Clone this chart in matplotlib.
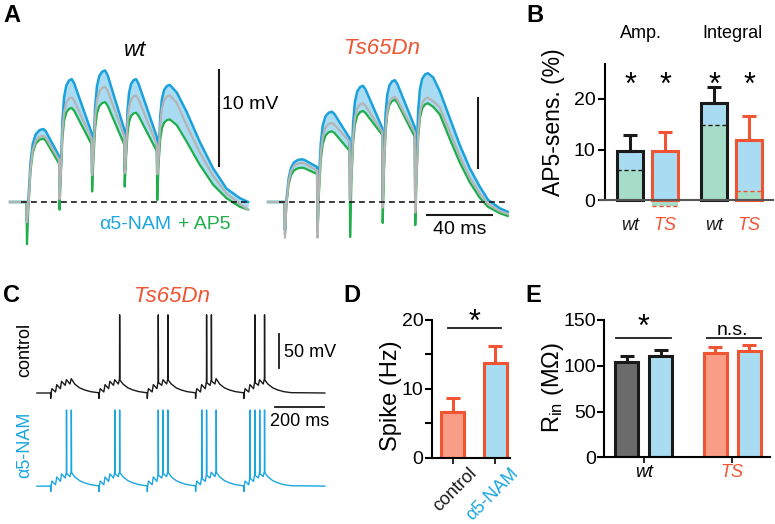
import numpy as np
import matplotlib
matplotlib.use("Agg")
import matplotlib.pyplot as plt

plt.rcParams["font.family"] = ["Liberation Sans", "DejaVu Sans"]
plt.rcParams["mathtext.default"] = "regular"

W, H = 775, 524

BLACK = "#1a1a1a"
BLUE_LINE = "#1ba1dc"
NAM_BLUE = "#1aa6df"
GREEN = "#1fae4a"
GRAY = "#b4b4b4"
FILL = "#a9dcf2"
MINT = "#a6ddc9"
ORANGE = "#ef5533"
SALMON = "#f99d86"
DGRAY = "#6b6b6b"

# ---------------- panel A: EPSP trains (ms, mV) ----------------
A_STIMS = [0, 20, 40, 60, 80]
A_T0 = -10.4
RISE_T = [0.15, 0.3, 0.5, 0.75, 1.0]      # fraction of time to peak
RISE_F = [0.55, 0.8, 0.93, 0.985, 1.0]    # fraction of amplitude reached

wt_peak_t = [10.0, 7.5, 8.0, 7.0, 7.7]
wt_blue_art = [-2.0, 0.5, 3.0, 3.2, 3.0]
wt_gray_art = [-2.1, 0.3, 2.8, 3.0, 2.9]
wt_green_art = [-4.4, -0.8, 1.1, 1.6, 0.2]
wt_blue_start = [0.0, 3.5, 5.5, 5.5, 5.0]
wt_gray_start = [-0.6, 3.2, 5.0, 5.0, 4.5]
wt_green_start = [-0.8, 3.0, 4.5, 4.5, 4.0]
wt_blue_peak = [7.6, 12.8, 13.7, 12.8, 12.2]
wt_gray_peak = [6.9, 10.9, 12.0, 11.1, 11.1]
wt_green_peak = [6.6, 9.8, 10.4, 9.3, 8.6]
wt_blue_trough = [4.8, 7.2, 7.6, 6.8]
wt_gray_trough = [4.4, 6.6, 6.9, 6.0]
wt_green_trough = [4.0, 6.0, 6.0, 5.3]
wt_decay_t = [92, 98, 106, 114.3, 122.5, 130.7, 135.8]
wt_blue_decay = [11.4, 9.4, 6.3, 3.5, 1.4, 0.4, 0.0]
wt_gray_decay = [10.3, 8.0, 5.2, 2.7, 0.9, -0.2, -0.8]
wt_green_decay = [8.0, 6.3, 3.9, 1.8, 0.4, -0.5, -0.8]

ts_peak_t = [10.4, 8.8, 7.9, 7.5, 7.7]
ts_blue_art = [-4.0, -4.0, 0.5, 0.0, -1.0]
ts_gray_art = [-5.1, -5.1, 0.0, -0.8, -1.5]
ts_green_art = [-4.6, -4.6, -5.0, -3.0, -3.3]
ts_blue_start = [0.0, 3.0, 5.0, 7.0, 7.0]
ts_gray_start = [-0.5, 1.5, 3.5, 5.0, 4.0]
ts_green_start = [-0.5, 1.0, 3.0, 4.5, 3.5]
ts_blue_peak = [6.1, 12.9, 16.6, 17.4, 18.4]
ts_gray_peak = [5.6, 11.3, 14.1, 15.0, 14.9]
ts_green_peak = [4.9, 10.1, 13.0, 14.6, 14.1]
ts_blue_trough = [5.0, 9.1, 10.6, 10.7]
ts_gray_trough = [4.5, 8.6, 10.0, 9.9]
ts_green_trough = [4.0, 7.3, 9.6, 9.3]
ts_decay_t = [91, 95.1, 101.2, 107.4, 113.5, 119.6, 124.7, 131.9, 136.8]
ts_blue_decay = [17.8, 15.8, 12.0, 8.1, 4.8, 2.2, 0.3, -0.9, -1.4]
ts_gray_decay = [14.4, 13.5, 10.0, 6.5, 3.5, 1.2, -0.3, -1.3, -1.7]
ts_green_decay = [13.6, 12.5, 9.0, 5.6, 2.8, 0.6, -0.7, -1.6, -2.0]

# ---------------- panel B: AP5-sensitive fraction (%) ----------------
b_groups = ["wt", "TS", "wt", "TS"]
b_total = [9.8, 9.7, 19.3, 11.9]
b_err = [3.1, 3.8, 3.0, 4.7]
b_ap5res = [6.0, -1.2, 14.9, 1.7]

# ---------------- panel C: burst responses ----------------
c_burst_onsets = [0, 200, 400, 600, 800]
c_epsp_offsets = [0, 20, 40, 60, 80]
c_decay_t = [100, 120, 140, 165, 195]
ctrl_peak = [6.4, 12.3, 17.2, 19.6, 21.1]
ctrl_trough = [1.5, 6.4, 11.3, 13.2]
ctrl_decay = [13.0, 7.5, 4.5, 2.0, 0.5]
ctrl_spikes = [[], [4], [2, 4], [2, 3], [2, 4]]
nam_peak = [7.5, 13.5, 18.0, 20.5, 22.0]
nam_trough = [2.0, 7.0, 12.0, 14.0]
nam_decay = [13.5, 8.0, 4.8, 2.2, 0.6]
nam_spikes = [[3, 4], [3, 4], [2, 3, 4], [1, 2, 4], [1, 2, 3, 4]]
ctrl_spike_top = 115
nam_spike_top = 112

# ---------------- panel D: spike rate (Hz) ----------------
d_labels = ["control", "α5-NAM"]
d_vals = [6.7, 13.8]
d_err = [1.9, 2.4]

# ---------------- panel E: input resistance (MOhm) ----------------
e_groups = ["wt", "TS"]
e_vals = [103.8, 111.0, 113.6, 116.0]
e_err = [6.9, 6.0, 7.4, 7.0]

fig = plt.figure(figsize=(W / 100, H / 100), dpi=100)


def box(l, t, r, b):
    return fig.add_axes([l / W, 1 - b / H, (r - l) / W, (b - t) / H])


def ftext(x, y, s, **kw):
    fig.text(x / W, 1 - y / H, s, **kw)


def epsp_train(tk, art, start, peak, trough, decay_t, decay_v):
    t, v = [A_T0, -0.3], [0.0, 0.0]
    for k, T in enumerate(A_STIMS):
        if k > 0:
            t.append(T - 0.3)
            v.append(trough[k - 1])
        t += [T, T + 0.8]
        v += [art[k], start[k]]
        for ft, fv in zip(RISE_T, RISE_F):
            t.append(T + 0.8 + ft * (tk[k] - 0.8))
            v.append(start[k] + fv * (peak[k] - start[k]))
        if k < len(trough):
            # rounded top before the linear fall
            t.append(T + tk[k] + 1.5)
            v.append(peak[k] - 0.08 * (peak[k] - trough[k]))
    t += list(decay_t)
    v += list(decay_v)
    return np.array(t), np.array(v)


def draw_a(ax, tk, blue, gray, green, decay_t):
    t, vb = epsp_train(tk, *blue[:4], decay_t, blue[4])
    _, vg = epsp_train(tk, *gray[:4], decay_t, gray[4])
    _, vn = epsp_train(tk, *green[:4], decay_t, green[4])
    ax.axhline(0, xmin=0.06, xmax=0.975, color=BLACK, lw=1.2, ls=(0, (3.5, 2.5)), zorder=5)
    ax.fill_between(t, vn, vb, where=vb >= vn, interpolate=True, color=FILL, lw=0, zorder=1)
    ax.plot(t, vb, color=BLUE_LINE, lw=1.8, zorder=2, solid_joinstyle="round")
    ax.plot(t, vn, color=GREEN, lw=1.6, zorder=3, solid_joinstyle="round")
    ax.plot(t, vg, color=GRAY, lw=1.6, zorder=4, solid_joinstyle="round")
    ax.set_xlim(-13, 140.5)
    ax.axis("off")


# panel A, wt
ax_wt = box(5.8, 43.6, 255.8, 259.6)
ax_wt.set_ylim(-6, 16.5)
draw_a(ax_wt, wt_peak_t,
       (wt_blue_art, wt_blue_start, wt_blue_peak, wt_blue_trough, wt_blue_decay),
       (wt_gray_art, wt_gray_start, wt_gray_peak, wt_gray_trough, wt_gray_decay),
       (wt_green_art, wt_green_start, wt_green_peak, wt_green_trough, wt_green_decay),
       wt_decay_t)
ax_wt.plot([117.8, 117.8], [3.75, 13.75], color=BLACK, lw=1.5, clip_on=False)
ax_wt.text(119.5, 10.2, "10 mV", fontsize=14, va="center", ha="left", clip_on=False)
ax_wt.text(44.5, -2.3, "α5-NAM", color=NAM_BLUE, fontsize=14, va="center", ha="left")
ax_wt.text(92.5, -2.3, "+ AP5", color=GREEN, fontsize=14, va="center", ha="left")

# panel A, Ts65Dn
ax_ts = box(263.8, 55, 513.8, 258)
ax_ts.set_ylim(-8, 21)
draw_a(ax_ts, ts_peak_t,
       (ts_blue_art, ts_blue_start, ts_blue_peak, ts_blue_trough, ts_blue_decay),
       (ts_gray_art, ts_gray_start, ts_gray_peak, ts_gray_trough, ts_gray_decay),
       (ts_green_art, ts_green_start, ts_green_peak, ts_green_trough, ts_green_decay),
       ts_decay_t)
ax_ts.plot([118.4, 118.4], [4.86, 14.86], color=BLACK, lw=1.5, clip_on=False)
ax_ts.plot([87.1, 127.1], [-1.86, -1.86], color=BLACK, lw=1.5, clip_on=False)
ax_ts.text(107.1, -4.0, "40 ms", fontsize=14, ha="center", va="center")

ftext(135, 50, "wt", fontsize=16, style="italic", ha="center", va="center")
ftext(382, 48, "Ts65Dn", fontsize=16, style="italic", color=ORANGE, ha="center", va="center")

# ---------------- panel B ----------------
axb = box(605, 63.6, 775, 215.2)
b_pos = np.array([0, 1, 2.4, 3.4])
bw = 0.74
b_edge = [BLACK if g == "wt" else ORANGE for g in b_groups]
axb.bar(b_pos, b_total, bw, color=FILL, lw=0, zorder=1)
axb.bar(b_pos, b_ap5res, bw, color=MINT, lw=0, zorder=2)
for x, tot, e, r, c, g in zip(b_pos, b_total, b_err, b_ap5res, b_edge, b_groups):
    axb.hlines(r, x - bw / 2, x + bw / 2, colors=c, lw=1.0, linestyles=(0, (3, 2)), zorder=3)
    axb.bar(x, tot, bw, fill=False, edgecolor=c, lw=2.2, zorder=4)
    axb.errorbar(x, tot, yerr=[[0], [e]], fmt="none", ecolor=c, elinewidth=2.2,
                 capsize=5, capthick=2.2, zorder=4)
    axb.text(x, 22.6, "*", fontsize=22, ha="center", va="center")
    axb.text(x, -5.0, g, fontsize=13, style="italic", color=c, ha="center", va="center",
             clip_on=False)
axb.set_xlim(-0.714, 4.14)
axb.set_ylim(-3, 27)
axb.axhline(0, xmin=-0.03, xmax=0.99, color="#555555", lw=1.5, zorder=5, clip_on=False)
axb.set_yticks([0, 10, 20])
axb.set_xticks([])
for s in ["top", "right", "bottom"]:
    axb.spines[s].set_visible(False)
axb.spines["left"].set_bounds(0, 27)
axb.spines["left"].set_linewidth(1.5)
axb.tick_params(axis="y", labelsize=14, width=1.5, length=5, pad=2)
axb.set_ylabel("AP5-sens. (%)", fontsize=16.5)
axb.yaxis.set_label_coords(-0.235, 0.615)
ftext(641, 34, "Amp.", fontsize=13, ha="center", va="center")
ftext(733, 34, "Integral", fontsize=13, ha="center", va="center")


# ---------------- panel C ----------------
def burst_trace(peaks, troughs, decay_v, spikes, spike_top):
    t, v = [-57.0], [0.0]
    for b, T0 in enumerate(c_burst_onsets):
        t += [T0 - 0.5, T0, T0 + 1.5]
        v += [0.0, -8.0, 0.0]
        for k, dt in enumerate(c_epsp_offsets):
            T = T0 + dt
            if k > 0:
                t.append(T)
                v.append(troughs[k - 1])
            t.append(T + 5)
            v.append(peaks[k])
            if k in spikes[b]:
                t += [T + 5.5, T + 6.5]
                v += [spike_top, peaks[k] - 2]
        t += [T0 + d for d in c_decay_t]
        v += list(decay_v)
    t.append(1135.0)
    v.append(0.0)
    return np.array(t), np.array(v)


axc = box(30, 300, 340, 500)
tc, vc = burst_trace(ctrl_peak, ctrl_trough, ctrl_decay, ctrl_spikes, ctrl_spike_top)
tn, vn = burst_trace(nam_peak, nam_trough, nam_decay, nam_spikes, nam_spike_top)
axc.plot(tc, vc, color=BLACK, lw=1.0)
axc.plot(tn, vn - 137, color=NAM_BLUE, lw=1.0)
axc.plot([945, 945], [36.8, 86.8], color=BLACK, lw=1.3)
axc.text(966, 60, "50 mV", fontsize=13, ha="left", va="center")
axc.plot([930, 1130], [-20.6, -20.6], color=BLACK, lw=1.3)
axc.text(1030, -42.6, "200 ms", fontsize=13, ha="center", va="center")
axc.set_xlim(-85.7, 1198)
axc.set_ylim(-157.4, 136.8)
axc.axis("off")
ftext(172, 297, "Ts65Dn", fontsize=16, style="italic", color=ORANGE, ha="center", va="center")
ftext(25, 350, "control", fontsize=13, rotation=90, ha="center", va="center")
ftext(25, 445, "α5-NAM", fontsize=13, rotation=90, ha="center", va="center", color=NAM_BLUE)

# ---------------- panel D ----------------
axd = box(431.7, 320, 510, 457.7)
d_pos = np.array([0, 1])
axd.bar(d_pos, d_vals, 0.54, color=[SALMON, FILL], edgecolor=ORANGE, lw=2.2, zorder=2)
for x, val, e in zip(d_pos, d_vals, d_err):
    axd.errorbar(x, val, yerr=[[0], [e]], fmt="none", ecolor=ORANGE, elinewidth=2.2,
                 capsize=5, capthick=2.2, zorder=1)
axd.plot([-0.12, 1.14], [18.8, 18.8], color=BLACK, lw=1.3, clip_on=False)
axd.text(0.51, 19.6, "*", fontsize=22, ha="center", va="center", clip_on=False)
axd.set_xlim(-0.5, 1.35)
axd.set_ylim(0, 20)
axd.set_yticks([0, 10, 20])
axd.set_yticks([5, 15], minor=True)
axd.set_xticks(d_pos)
axd.set_xticklabels([])
for x, lab, c in zip(d_pos, d_labels, [BLACK, NAM_BLUE]):
    axd.text(x + 0.5, -1.9, lab, rotation=45, ha="right", va="center",
             rotation_mode="anchor", fontsize=13, color=c, clip_on=False)
for s in ["top", "right"]:
    axd.spines[s].set_visible(False)
for s in ["left", "bottom"]:
    axd.spines[s].set_linewidth(1.5)
axd.tick_params(axis="y", which="both", labelsize=14, width=1.5, length=5, pad=1)
axd.tick_params(axis="x", width=1.2, length=4)
axd.set_ylabel("Spike (Hz)", fontsize=17)
axd.yaxis.set_label_coords(-0.38, 0.45)

# ---------------- panel E ----------------
axe = box(604.3, 320, 770, 457.3)
e_pos = np.array([0, 1, 2.6, 3.6])
e_fill = [DGRAY, FILL, SALMON, FILL]
e_edge = [BLACK, BLACK, ORANGE, ORANGE]
axe.bar(e_pos, e_vals, 0.68, color=e_fill, edgecolor=e_edge, lw=2.2, zorder=2)
for x, val, e, c in zip(e_pos, e_vals, e_err, e_edge):
    axe.errorbar(x, val, yerr=[[0], [e]], fmt="none", ecolor=c, elinewidth=2.2,
                 capsize=5, capthick=2.2, zorder=1)
axe.plot([-0.32, 1.29], [130, 130], color=BLACK, lw=1.3)
axe.plot([2.35, 3.94], [130, 130], color=BLACK, lw=1.3)
axe.text(0.5, 141, "*", fontsize=22, ha="center", va="center", clip_on=False)
axe.text(3.12, 133.5, "n.s.", fontsize=14, ha="center", va="baseline", clip_on=False)
axe.set_xlim(-0.66, 4.21)
axe.set_ylim(0, 150)
axe.set_yticks([0, 50, 100, 150])
axe.set_xticks([0.5, 3.1])
axe.set_xticklabels(e_groups, fontsize=13, style="italic")
axe.get_xticklabels()[1].set_color(ORANGE)
for s in ["top", "right"]:
    axe.spines[s].set_visible(False)
for s in ["left", "bottom"]:
    axe.spines[s].set_linewidth(1.5)
axe.tick_params(axis="y", labelsize=14, width=1.5, length=5, pad=1)
axe.tick_params(axis="x", width=1.2, length=4, pad=1)
axe.set_ylabel("$R_{in}$ (MΩ)", fontsize=17)
axe.yaxis.set_label_coords(-0.231, 0.508)

# panel letters
for x, y, s in [(12, 16, "A"), (535, 16, "B"), (12, 296, "C"), (352, 296, "D"), (533, 296, "E")]:
    ftext(x, y, s, fontsize=17, fontweight="bold", ha="center", va="center")

fig.savefig("out.png", dpi=100)
